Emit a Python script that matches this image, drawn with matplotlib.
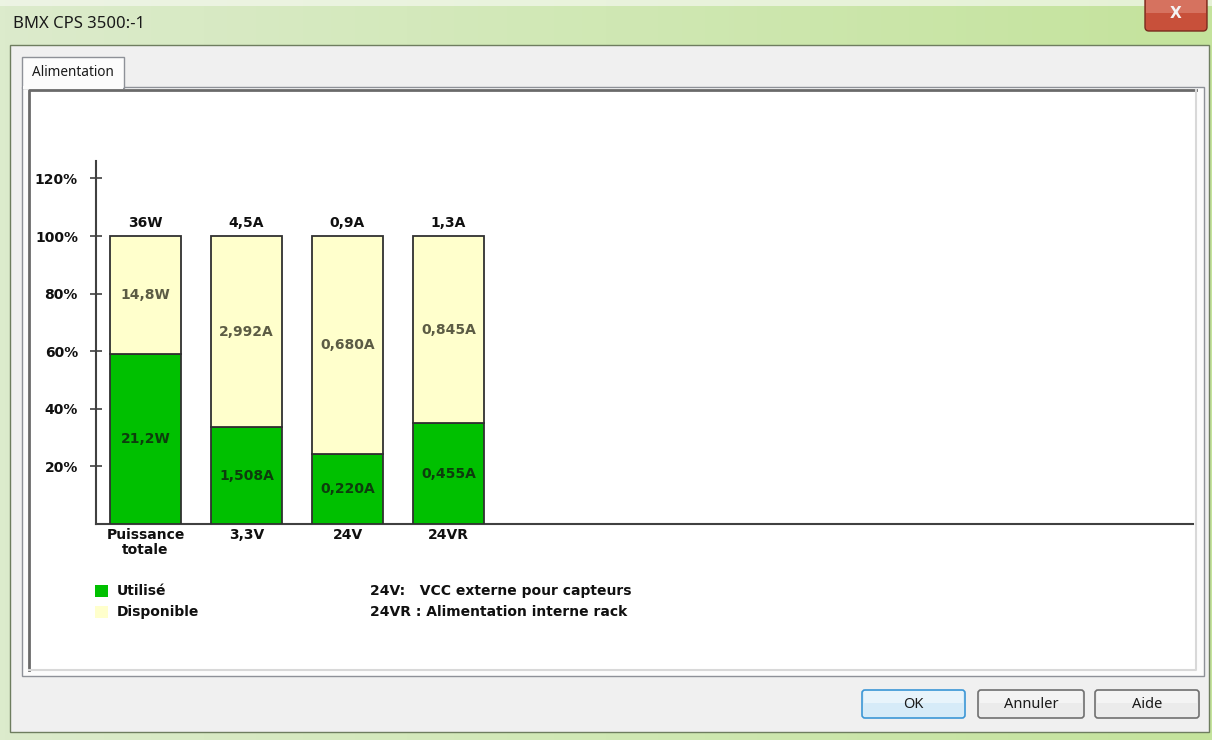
import numpy as np
import matplotlib
matplotlib.use("Agg")
import matplotlib.pyplot as plt
from matplotlib.patches import Rectangle, FancyBboxPatch
from matplotlib.colors import LinearSegmentedColormap

# ---------------- data ----------------
categories = ["Puissance\ntotale", "3,3V", "24V", "24VR"]
totals = [36.0, 4.5, 0.9, 1.3]
used = [21.2, 1.508, 0.220, 0.455]
available = [14.8, 2.992, 0.680, 0.845]
total_labels = ["36W", "4,5A", "0,9A", "1,3A"]
used_labels = ["21,2W", "1,508A", "0,220A", "0,455A"]
avail_labels = ["14,8W", "2,992A", "0,680A", "0,845A"]
y_ticks = [20, 40, 60, 80, 100, 120]
y_tick_labels = ["20%", "40%", "60%", "80%", "100%", "120%"]

W, H = 1212, 740
DPI = 100
GREEN = "#00c000"
YELLOW = "#ffffcc"
EDGE = "#303030"

fig = plt.figure(figsize=(W / DPI, H / DPI), dpi=DPI)

# ---------------- window chrome (pixel coords) ----------------
bg = fig.add_axes([0, 0, 1, 1], zorder=0)
bg.set_xlim(0, W)
bg.set_ylim(H, 0)
bg.axis("off")

grad = np.linspace(0, 1, 256).reshape(1, -1)
cm_title = LinearSegmentedColormap.from_list("t", ["#dcebcc", "#d0e8b4", "#c4e39c"])
bg.imshow(grad, extent=(0, W, H, 0), cmap=cm_title, aspect="auto", zorder=0)
bg.add_patch(Rectangle((0, 0), W, 6, facecolor="#f4f8ee", edgecolor="none", zorder=1, alpha=0.7))

bg.text(13, 24, "BMX CPS 3500:-1", fontsize=12, family="Noto Sans", color="#1a1a1a",
        va="center", ha="left", zorder=2)

# close button
bg.add_patch(FancyBboxPatch((1145, -6), 62, 37, boxstyle="round,pad=0,rounding_size=4",
                            facecolor="#c8503a", edgecolor="#7a2a1e", lw=1, zorder=2))
bg.add_patch(Rectangle((1146, -5), 60, 18, facecolor="#e08a78", edgecolor="none", zorder=2, alpha=0.6))
bg.text(1176, 14, "X", fontsize=11, fontweight="bold", color="#f4f4f4", ha="center",
        va="center", family="DejaVu Sans", zorder=3)

# window body
bg.add_patch(Rectangle((10, 45), 1199, 687, facecolor="#f0f0f0", edgecolor="#6e7d5f", lw=1, zorder=2))

# tab panel
bg.add_patch(Rectangle((22, 87), 1182, 589, facecolor="#fcfcfc", edgecolor="#8e9198", lw=1, zorder=3))
bg.add_patch(Rectangle((22, 57), 102, 31, facecolor="#fcfcfc", edgecolor="#8e9198", lw=1, zorder=3))
bg.add_patch(Rectangle((23, 86), 100, 3, facecolor="#fcfcfc", edgecolor="none", zorder=4))
bg.text(73, 72, "Alimentation", fontsize=9.8, family="Noto Sans", color="#1a1a1a",
        ha="center", va="center", zorder=5)

# sunken chart area
bg.add_patch(Rectangle((28, 89), 1169, 582, facecolor="white", edgecolor="none", zorder=4))
bg.plot([29, 29, 1196], [670, 90, 90], color="#6a6a6a", lw=2, zorder=5)
bg.plot([29, 1196, 1196], [670, 670, 90], color="#d8d8d8", lw=1.5, zorder=5)

# buttons
def button(x0, x1, label, ok=False):
    if ok:
        fc, ec = "#d6ebf8", "#3c97d6"
    else:
        fc, ec = "#ebebeb", "#707070"
    bg.add_patch(FancyBboxPatch((x0, 690), x1 - x0, 28, boxstyle="round,pad=0,rounding_size=3",
                                facecolor=fc, edgecolor=ec, lw=1.2, zorder=5))
    bg.add_patch(Rectangle((x0 + 2, 691), x1 - x0 - 4, 12,
                           facecolor="white", edgecolor="none", alpha=0.45, zorder=6))
    bg.text((x0 + x1) / 2, 704, label, fontsize=10.5, family="Noto Sans", color="#1a1a1a",
            ha="center", va="center", zorder=7)

button(862, 965, "OK", ok=True)
button(978, 1084, "Annuler")
button(1095, 1199, "Aide")

# legend + notes
bg.add_patch(Rectangle((95, 585), 13, 12, facecolor=GREEN, edgecolor="none", zorder=6))
bg.add_patch(Rectangle((95, 606), 13, 12, facecolor=YELLOW, edgecolor="none", zorder=6))
lkw = dict(fontsize=10, fontweight="bold", family="DejaVu Sans", color="#101010",
           va="center", ha="left", zorder=7)
bg.text(117, 591, "Utilisé", **lkw)
bg.text(117, 612, "Disponible", **lkw)
bg.text(370, 591, "24V:   VCC externe pour capteurs", **lkw)
bg.text(370, 612, "24VR : Alimentation interne rack", **lkw)

# ---------------- chart ----------------
px_per_pct = 2.88
y_base = 524
y_top_lim = 126
ax_left, ax_right = 96, 1193
ax_top = y_base - y_top_lim * px_per_pct
ax = fig.add_axes([ax_left / W, (H - y_base) / H, (ax_right - ax_left) / W,
                   (y_base - ax_top) / H], zorder=10)
ax.set_facecolor("none")

x = np.arange(len(categories))
spacing = 101.0
x_lo = -(145.5 - ax_left) / spacing
x_hi = x_lo + (ax_right - ax_left) / spacing
ax.set_xlim(x_lo, x_hi)
ax.set_ylim(0, y_top_lim)

used_pct = [u / t * 100 for u, t in zip(used, totals)]
avail_pct = [a / t * 100 for a, t in zip(available, totals)]
bw = 71 / spacing
ax.bar(x, used_pct, width=bw, color=GREEN, edgecolor=EDGE, linewidth=1.3, zorder=3)
ax.bar(x, avail_pct, width=bw, bottom=used_pct, color=YELLOW, edgecolor=EDGE,
       linewidth=1.3, zorder=3)

tkw = dict(fontsize=10, fontweight="bold", family="DejaVu Sans", ha="center")
for i in range(len(categories)):
    ax.annotate(total_labels[i], (x[i], used_pct[i] + avail_pct[i]), xytext=(0, 6),
                textcoords="offset pixels", va="bottom", color="#101010", **tkw)
    ax.text(x[i], used_pct[i] / 2, used_labels[i], va="center", color="#0d3d0d", zorder=5, **tkw)
    ax.text(x[i], used_pct[i] + avail_pct[i] / 2, avail_labels[i], va="center",
            color="#5c5c44", zorder=5, **tkw)

for s in ["top", "right"]:
    ax.spines[s].set_visible(False)
for s in ["left", "bottom"]:
    ax.spines[s].set_color("#404040")
    ax.spines[s].set_linewidth(1.5)

ax.set_yticks(y_ticks)
ax.set_yticklabels(y_tick_labels, fontsize=10, fontweight="bold", family="DejaVu Sans",
                   color="#101010")
ax.tick_params(axis="y", direction="inout", length=8, width=1.2, color="#404040", pad=9)
ax.set_xticks(x)
ax.set_xticklabels(categories, fontsize=10, fontweight="bold", family="DejaVu Sans",
                   color="#101010", linespacing=1.05)
ax.tick_params(axis="x", length=0, pad=3)

fig.savefig("out.png", dpi=DPI)
